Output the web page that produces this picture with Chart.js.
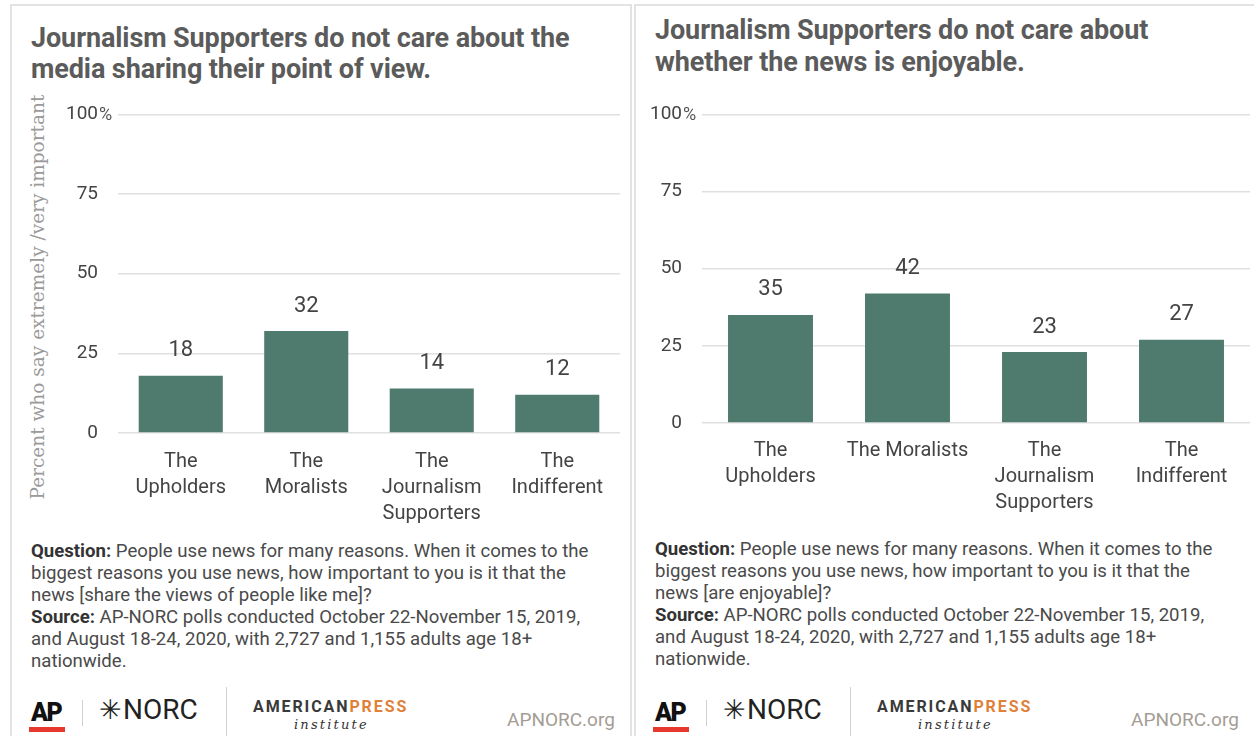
<!DOCTYPE html>
<html>
<head>
<meta charset="utf-8">
<script src="https://cdn.jsdelivr.net/npm/chart.js@4.4.1/dist/chart.umd.min.js"></script>
<style>
  body { margin: 0; background: #fff; width: 1254px; height: 736px; overflow: hidden; position: relative; font-family: Roboto, sans-serif; }
  .panel { position: absolute; top: 4px; height: 760px; border: 2px solid #e3e3e3; box-sizing: border-box; }
  #p1 { left: 10px; width: 622px; }
  #p2 { left: 634px; width: 640px; border-right: none; }
  .title { position: absolute; font-weight: 700; font-size: 27px; line-height: 31px; color: #5b5b5b; white-space: nowrap; letter-spacing: -0.1px; }
  .note { position: absolute; font-size: 18.6px; line-height: 22px; color: #4a4a4a; white-space: nowrap; }
  .note b { color: #333; }
  .ytitle { position: absolute; left: 37px; top: 297px; transform: translate(-50%, -50%) rotate(-90deg); font-family: "DejaVu Serif", serif; font-size: 18.5px; color: #9a9a9a; white-space: nowrap; }
  canvas { position: absolute; }
  .logo { position: absolute; white-space: nowrap; }
  .ap { font-weight: 900; font-size: 25px; color: #111; letter-spacing: -1.5px; top: 698px; }
  .apbar { position: absolute; top: 727px; width: 36px; height: 5px; background: #e8392f; }
  .sep { position: absolute; width: 1px; background: #d0d0d0; }
  .norc { font-size: 28px; color: #222; top: 693px; }
  .norc span { font-family: "DejaVu Sans", sans-serif; font-size: 27px; font-weight: 300; margin-right: 1px; }
  .amp { font-weight: 700; font-size: 16px; letter-spacing: 1.9px; color: #3a3a3a; top: 697px; }
  .amp span { color: #e0813a; }
  .inst { font-family: "DejaVu Serif", serif; font-style: italic; font-size: 13px; letter-spacing: 2.2px; color: #333; top: 717px; }
  .org { font-size: 19px; color: #a39d95; top: 708px; }
</style>
</head>
<body>
<div class="panel" id="p1"></div>
<div class="panel" id="p2"></div>

<div class="title" style="left:31px; top:23px;">Journalism Supporters do not care about the<br>media sharing their point of view.</div>
<div class="title" style="left:655px; top:14px; line-height:32px;">Journalism Supporters do not care about<br>whether the news is enjoyable.</div>

<div class="ytitle">Percent who say extremely /very important</div>

<canvas id="chartLeft" width="607" height="447" style="left:20px; top:83px;"></canvas>
<canvas id="chartRight" width="610" height="447" style="left:644px; top:83px;"></canvas>

<div class="note" style="left:31px; top:540px;"><b>Question:</b> People use news for many reasons. When it comes to the<br>biggest reasons you use news, how important to you is it that the<br>news [share the views of people like me]?<br><b>Source:</b> AP-NORC polls conducted October 22-November 15, 2019,<br>and August 18-24, 2020, with 2,727 and 1,155 adults age 18+<br>nationwide.</div>
<div class="note" style="left:655px; top:538px;"><b>Question:</b> People use news for many reasons. When it comes to the<br>biggest reasons you use news, how important to you is it that the<br>news [are enjoyable]?<br><b>Source:</b> AP-NORC polls conducted October 22-November 15, 2019,<br>and August 18-24, 2020, with 2,727 and 1,155 adults age 18+<br>nationwide.</div>

<div id="logos"></div>

<script>
// chart data
const categoriesLeft = [['The', 'Upholders'], ['The', 'Moralists'], ['The', 'Journalism', 'Supporters'], ['The', 'Indifferent']];
const valuesLeft = [18, 32, 14, 12];
const categoriesRight = [['The', 'Upholders'], 'The Moralists', ['The', 'Journalism', 'Supporters'], ['The', 'Indifferent']];
const valuesRight = [35, 42, 23, 27];
const yTickValues = [0, 25, 50, 75, 100];

const barColor = '#4f7a6e';
const textColor = '#444';

// Footer logos, same row under each panel
function addLogos(dx) {
    const box = document.getElementById('logos');
    box.insertAdjacentHTML('beforeend',
        `<div class="logo ap" style="left:${31 + dx}px">AP</div>` +
        `<div class="apbar" style="left:${29 + dx}px"></div>` +
        `<div class="sep" style="left:${82 + dx}px; top:700px; height:26px"></div>` +
        `<div class="logo norc" style="left:${99 + dx}px"><span>\u2733</span>NORC</div>` +
        `<div class="sep" style="left:${226 + dx}px; top:687px; height:60px"></div>` +
        `<div class="logo amp" style="left:${253 + dx}px">AMERICAN<span>PRESS</span></div>` +
        `<div class="logo inst" style="left:${294 + dx}px">institute</div>` +
        `<div class="logo org" style="left:${507 + dx}px">APNORC.org</div>`);
}
addLogos(0);
addLogos(624);

// Value labels above each bar
const valueLabels = {
    id: 'valueLabels',
    afterDatasetsDraw(chart) {
        const ctx = chart.ctx;
        const meta = chart.getDatasetMeta(0);
        ctx.save();
        ctx.font = '22px Roboto';
        ctx.fillStyle = textColor;
        ctx.textAlign = 'center';
        ctx.textBaseline = 'middle';
        meta.data.forEach((bar, i) => {
            ctx.fillText(chart.data.datasets[0].data[i], bar.x, bar.y - 25);
        });
        ctx.restore();
    }
};

// The % sign hangs after the "100" tick
const percentSign = {
    id: 'percentSign',
    afterDraw(chart) {
        const ctx = chart.ctx;
        const y = chart.scales.y;
        ctx.save();
        ctx.font = '18px Roboto';
        ctx.fillStyle = '#555';
        ctx.textAlign = 'left';
        ctx.textBaseline = 'middle';
        ctx.fillText('%', chart.chartArea.left - 19, y.getPixelForValue(100) + 1);
        ctx.restore();
    }
};

function makeChart(id, labels, values, opts) {
    const ctx = document.getElementById(id).getContext('2d');
    return new Chart(ctx, {
        type: 'bar',
        data: {
            labels: labels,
            datasets: [{
                data: values,
                backgroundColor: barColor,
                barPercentage: opts.barPct,
                categoryPercentage: 1
            }]
        },
        options: {
            responsive: false,
            animation: false,
            layout: { padding: { top: 0, right: opts.padRight, left: 0, bottom: 0 } },
            plugins: { legend: { display: false }, tooltip: { enabled: false } },
            scales: {
                x: {
                    grid: { display: false, drawTicks: false },
                    border: { display: false },
                    ticks: {
                        color: textColor,
                        font: { family: 'Roboto', size: 20, lineHeight: 1.3 },
                        padding: opts.xPad,
                        maxRotation: 0,
                        autoSkip: false
                    },
                    afterFit(scale) { scale.height = opts.xHeight; }
                },
                y: {
                    min: 0,
                    max: 100,
                    afterBuildTicks(scale) { scale.ticks = yTickValues.map(v => ({ value: v })); },
                    grid: { color: '#e0e0e0', lineWidth: 1.5, drawTicks: false },
                    border: { display: false },
                    ticks: {
                        color: textColor,
                        font: { family: 'Roboto', size: 19 },
                        padding: 20
                    },
                    afterFit(scale) { scale.width = opts.yWidth; }
                }
            }
        },
        plugins: [valueLabels, percentSign]
    });
}

makeChart('chartLeft', categoriesLeft, valuesLeft, { barPct: 0.67, padRight: 7, xPad: 16, xHeight: 97, yWidth: 98 });
makeChart('chartRight', categoriesRight, valuesRight, { barPct: 0.62, padRight: 4, xPad: 15, xHeight: 107, yWidth: 58 });
</script>
</body>
</html>
